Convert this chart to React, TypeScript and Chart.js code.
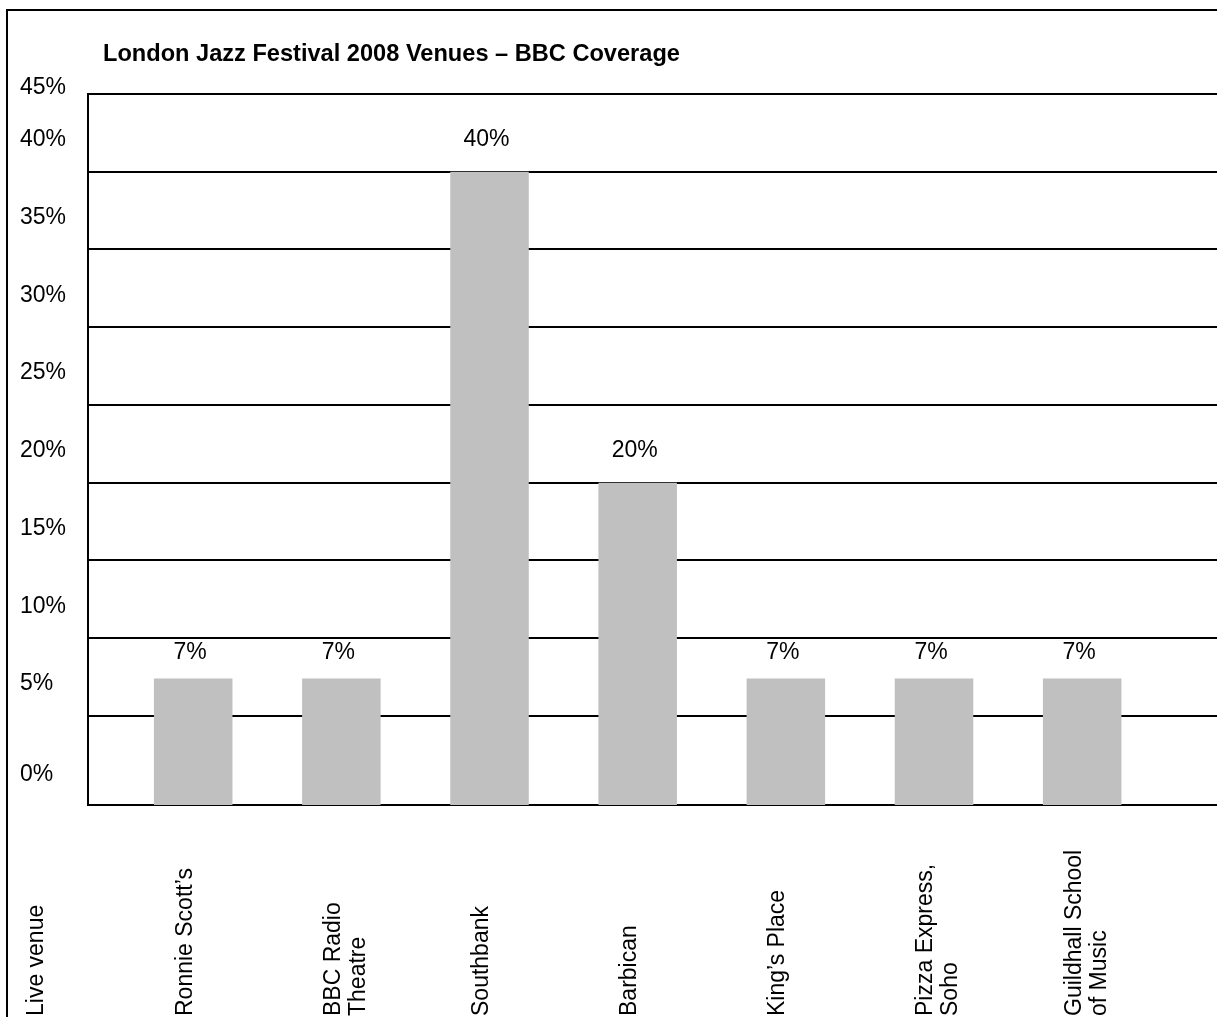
import React, { useEffect, useRef } from 'react';
import { Chart, registerables } from 'chart.js';

Chart.register(...registerables);

// ---- data ----
const chartTitle = 'London Jazz Festival 2008 Venues – BBC Coverage';
const categories: string[][] = [
  ['Live venue'],
  ['Ronnie Scott’s'],
  ['BBC Radio', 'Theatre'],
  ['Southbank'],
  ['Barbican'],
  ['King’s Place'],
  ['Pizza Express,', 'Soho'],
  ['Guildhall School', 'of Music'],
];
const coverage: (number | null)[] = [null, 7.4, 7.4, 40, 20, 7.4, 7.4, 7.4];
const yTickValues: number[] = [0, 5, 10, 15, 20, 25, 30, 35, 40, 45];

// ---- styling ----
const FONT = '"Liberation Sans", Arial, Helvetica, sans-serif';
const BAR_COLOR = '#c0c0c0';
const Y_MIN = -0.73;
const Y_MAX = 45;

const framePlugin = {
  id: 'frame',
  beforeDraw(chart: any) {
    const { ctx } = chart;
    ctx.save();
    ctx.strokeStyle = '#000';
    ctx.lineWidth = 2;
    ctx.strokeRect(7, 10, chart.width + 20, chart.height + 20);
    ctx.restore();
  },
};

const titlePlugin = {
  id: 'leftTitle',
  afterDraw(chart: any) {
    const { ctx, chartArea } = chart;
    ctx.save();
    ctx.font = `bold 23.6px ${FONT}`;
    ctx.fillStyle = '#000';
    ctx.textAlign = 'left';
    ctx.textBaseline = 'alphabetic';
    ctx.fillText(chartTitle, chartArea.left + 15, chartArea.top - 33);
    ctx.restore();
  },
};

const xLabelPlugin = {
  id: 'xLabels',
  afterDraw(chart: any) {
    const { ctx } = chart;
    const xs = chart.scales.x;
    ctx.save();
    ctx.font = `23px ${FONT}`;
    ctx.fillStyle = '#000';
    ctx.textAlign = 'left';
    ctx.textBaseline = 'middle';
    categories.forEach((lines, i) => {
      const x = xs.getPixelForValue(i);
      ctx.save();
      ctx.translate(x - 8, chart.height - 1);
      ctx.rotate(-Math.PI / 2);
      lines.forEach((line, j) => ctx.fillText(line, 0, j * 25));
      ctx.restore();
    });
    ctx.restore();
  },
};

const valueLabelPlugin = {
  id: 'valueLabels',
  afterDatasetsDraw(chart: any) {
    const { ctx } = chart;
    const ys = chart.scales.y;
    const meta = chart.getDatasetMeta(0);
    ctx.save();
    ctx.font = `23px ${FONT}`;
    ctx.fillStyle = '#000';
    ctx.textAlign = 'center';
    ctx.textBaseline = 'alphabetic';
    meta.data.forEach((bar: any, i: number) => {
      const v = coverage[i];
      if (v === null || v === undefined) return;
      const r = Math.round(v);
      ctx.fillText(`${r}%`, bar.x - 3, ys.getPixelForValue(r) - 26);
    });
    ctx.restore();
  },
};

export default function App() {
  const ref = useRef<HTMLCanvasElement | null>(null);

  useEffect(() => {
    document.body.style.margin = '0';
    document.body.style.overflow = 'hidden';
    const canvas = ref.current;
    if (!canvas) return;
    const chart = new Chart(canvas, {
      type: 'bar',
      data: {
        datasets: [
          {
            label: 'BBC coverage',
            data: categories.map((_, i) => ({ x: i, y: coverage[i] })) as any,
            backgroundColor: BAR_COLOR,
            borderWidth: 0,
            base: Y_MIN,
            barPercentage: 0.53,
            categoryPercentage: 1,
          } as any,
        ],
      },
      options: {
        animation: false,
        responsive: false,
        devicePixelRatio: 1,
        layout: { padding: { left: 20, top: 94, right: 0, bottom: 212 } },
        plugins: {
          legend: { display: false },
          tooltip: { enabled: false },
          title: { display: false },
        },
        scales: {
          x: {
            type: 'linear',
            offset: false,
            min: 0.29,
            max: 7.91,
            afterBuildTicks: (s: any) => {
              s.ticks = categories.map((_, i) => ({ value: i }));
            },
            afterFit: (s: any) => {
              s.height = 0;
            },
            ticks: { display: false },
            grid: { display: false, drawTicks: false, offset: false },
            border: { display: true, color: '#000', width: 2 },
          },
          y: {
            type: 'linear',
            min: Y_MIN,
            max: Y_MAX,
            afterBuildTicks: (s: any) => {
              s.ticks = yTickValues.map((v) => ({ value: v }));
            },
            afterFit: (s: any) => {
              s.width = 68;
            },
            ticks: {
              crossAlign: 'far',
              labelOffset: -32,
              color: '#000',
              font: { family: FONT, size: 23, lineHeight: 1.1 },
              callback: (value: any) => {
                const s = `${value}%`;
                if (value === yTickValues[yTickValues.length - 1]) return ['', '', s];
                if (value === yTickValues[0]) return ['', s];
                return s;
              },
            },
            grid: {
              color: (c: any) => (c.tick && c.tick.value === 0 ? 'rgba(0,0,0,0)' : '#000'),
              lineWidth: 2,
              drawTicks: false,
            },
            border: { display: true, color: '#000', width: 2 },
          },
        },
      } as any,
      plugins: [framePlugin, titlePlugin, xLabelPlugin, valueLabelPlugin],
    });
    return () => chart.destroy();
  }, []);

  return (
    <div style={{ width: 1217, height: 1017, overflow: 'hidden', background: '#fff' }}>
      <canvas ref={ref} width={1217} height={1017} style={{ display: 'block', width: 1217, height: 1017 }} />
    </div>
  );
}
